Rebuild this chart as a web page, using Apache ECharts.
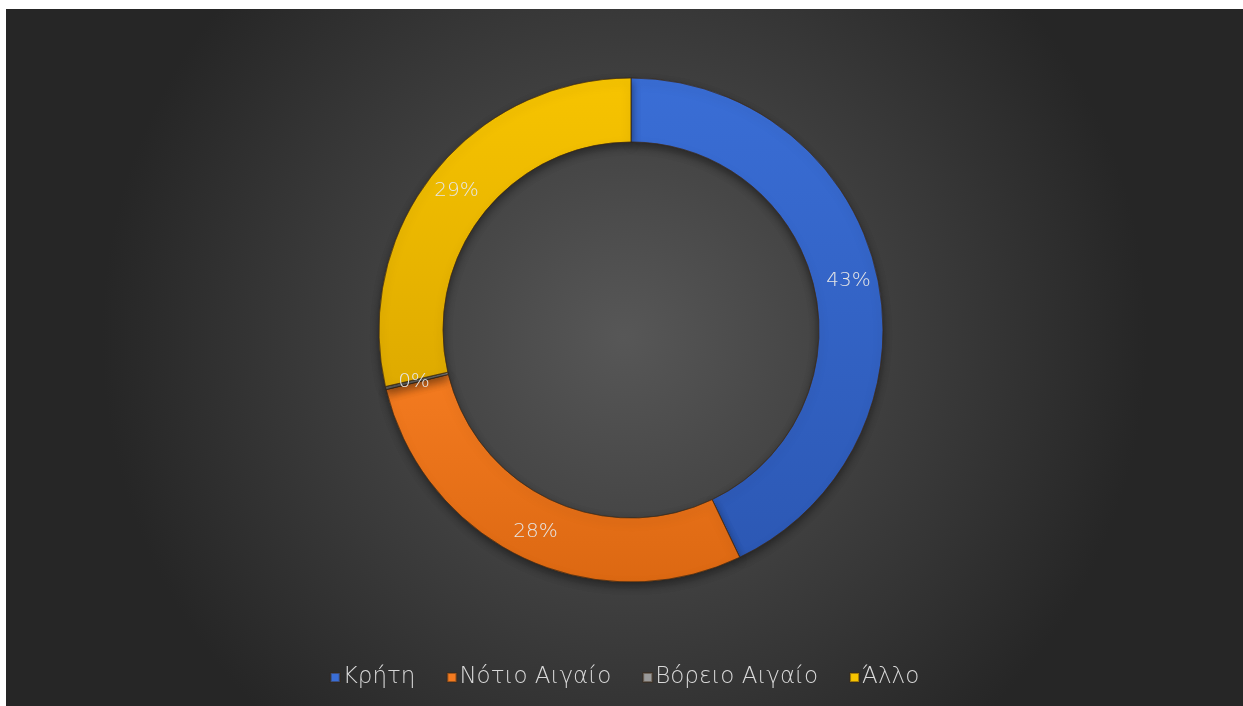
<!DOCTYPE html>
<html>
<head>
<meta charset="utf-8">
<title>Κατανομή ανά περιοχή</title>
<script src="https://cdn.jsdelivr.net/npm/echarts@6/dist/echarts.min.js"></script>
<style>
  html, body { margin: 0; padding: 0; background: #ffffff; width: 1243px; height: 706px; overflow: hidden; }
  #chart { position: absolute; left: 6px; top: 9px; width: 1237px; height: 697px; }
</style>
</head>
<body>
<div id="chart"></div>
<script>
// Regions and their shares (percent)
const categories = ['Κρήτη', 'Νότιο Αιγαίο', 'Βόρειο Αιγαίο', 'Άλλο'];
const shares = [42.9, 28.3, 0.2, 28.6];
const colors = ['#3a6ed6', '#f47b20', '#9a9a9a', '#f7c400'];
const darkColors = ['#2c58b4', '#dc6812', '#737373', '#deaa00'];

const chart = echarts.init(document.getElementById('chart'));

const fontFamily = "'DejaVu Sans', 'Lato', sans-serif";

const data = categories.map((name, i) => ({
  name: name,
  value: shares[i],
  itemStyle: {
    color: new echarts.graphic.LinearGradient(0, 0, 0, 1, [
      { offset: 0, color: colors[i] },
      { offset: 1, color: darkColors[i] }
    ]),
    borderColor: 'rgba(60,40,20,0.45)',
    borderWidth: 1,
    shadowBlur: 10,
    shadowOffsetY: 4,
    shadowColor: 'rgba(0,0,0,0.45)'
  }
}));

chart.setOption({
  backgroundColor: new echarts.graphic.RadialGradient(0.5, 0.47, 0.75, [
    { offset: 0, color: '#575757' },
    { offset: 1, color: '#262626' }
  ]),
  legend: {
    bottom: 12,
    left: 'center',
    itemWidth: 9,
    itemHeight: 9,
    itemGap: 31,
    icon: 'rect',
    data: categories.map((name, i) => ({ name: name, itemStyle: { color: colors[i] } })),
    textStyle: { color: '#d9d9d9', fontSize: 23, fontFamily: fontFamily, fontWeight: 200, padding: [0, 0, 0, -2] }
  },
  series: [{
    type: 'pie',
    center: [625, 321],
    radius: [188, 252],
    startAngle: 90,
    clockwise: true,
    avoidLabelOverlap: false,
    silent: true,
    label: {
      show: true,
      position: 'inside',
      color: '#e6e6e6',
      fontSize: 20,
      fontFamily: fontFamily,
      fontWeight: 200,
      formatter: p => Math.round(p.percent) + '%'
    },
    labelLine: { show: false },
    data: data
  }]
});
</script>
</body>
</html>
